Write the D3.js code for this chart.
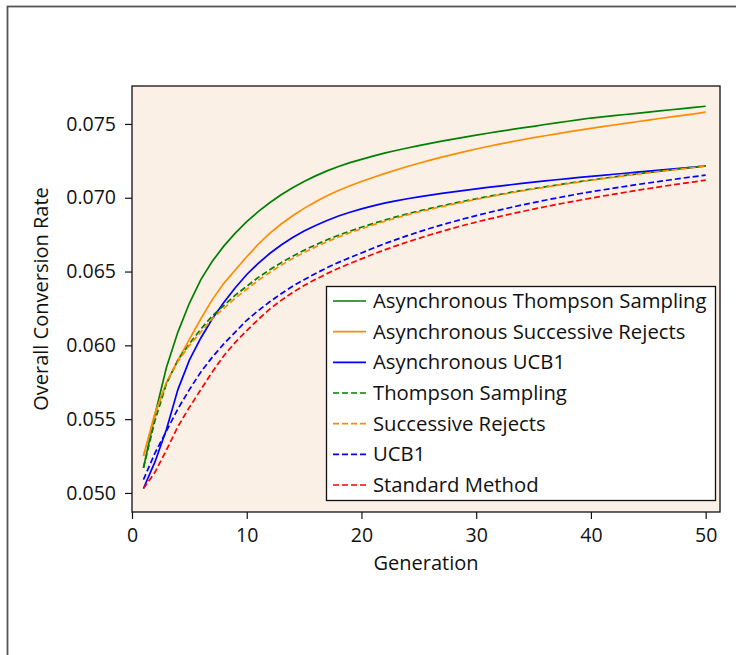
<!doctype html>
<html>
<head>
<meta charset="utf-8">
<style>
    body { margin: 0; background: #fff; }
    svg text { font-family: "Open Sans", sans-serif; fill: #111; }
</style>
<script src="https://cdn.jsdelivr.net/npm/d3@7"></script>
</head>
<body>
<svg width="736" height="655"></svg>
<script>
    // generations 1..50
    var generations = d3.range(1, 51);

    var seriesNames = ["Asynchronous Thompson Sampling", "Asynchronous Successive Rejects",
        "Asynchronous UCB1", "Thompson Sampling", "Successive Rejects", "UCB1", "Standard Method"];

    var asyncThompson = [0.05170, 0.05530, 0.05850, 0.06090, 0.06285, 0.06445, 0.06570, 0.06672, 0.06760, 0.06838,
        0.06906, 0.06966, 0.07020, 0.07068, 0.07110, 0.07148, 0.07182, 0.07212, 0.07238, 0.07260,
        0.07282, 0.07302, 0.07320, 0.07337, 0.07353, 0.07368, 0.07383, 0.07397, 0.07411, 0.07424,
        0.07437, 0.07449, 0.07461, 0.07473, 0.07484, 0.07496, 0.07507, 0.07518, 0.07529, 0.07540,
        0.07548, 0.07556, 0.07564, 0.07572, 0.07580, 0.07588, 0.07596, 0.07604, 0.07612, 0.07620];

    var asyncRejects = [0.05250, 0.05540, 0.05746, 0.05900, 0.06040, 0.06180, 0.06310, 0.06420, 0.06510, 0.06600,
        0.06685, 0.06758, 0.06822, 0.06878, 0.06928, 0.06973, 0.07014, 0.07049, 0.07081, 0.07110,
        0.07137, 0.07163, 0.07188, 0.07212, 0.07234, 0.07255, 0.07275, 0.07294, 0.07312, 0.07330,
        0.07347, 0.07363, 0.07378, 0.07393, 0.07407, 0.07420, 0.07433, 0.07446, 0.07458, 0.07470,
        0.07482, 0.07493, 0.07504, 0.07515, 0.07526, 0.07537, 0.07548, 0.07558, 0.07568, 0.07580];

    var asyncUCB1 = [0.05030, 0.05210, 0.05430, 0.05700, 0.05900, 0.06050, 0.06180, 0.06290, 0.06390, 0.06480,
        0.06555, 0.06622, 0.06680, 0.06730, 0.06774, 0.06812, 0.06846, 0.06876, 0.06902, 0.06925,
        0.06945, 0.06963, 0.06979, 0.06993, 0.07006, 0.07018, 0.07029, 0.07040, 0.07050, 0.07060,
        0.07070, 0.07079, 0.07088, 0.07097, 0.07106, 0.07114, 0.07122, 0.07130, 0.07138, 0.07145,
        0.07152, 0.07159, 0.07166, 0.07173, 0.07180, 0.07187, 0.07194, 0.07201, 0.07208, 0.07215];

    var thompson = [0.05170, 0.05490, 0.05740, 0.05900, 0.06010, 0.06110, 0.06200, 0.06270, 0.06340, 0.06400,
        0.06460, 0.06512, 0.06560, 0.06604, 0.06644, 0.06681, 0.06715, 0.06746, 0.06774, 0.06800,
        0.06825, 0.06848, 0.06870, 0.06891, 0.06910, 0.06928, 0.06945, 0.06962, 0.06978, 0.06993,
        0.07008, 0.07022, 0.07036, 0.07049, 0.07062, 0.07074, 0.07086, 0.07098, 0.07109, 0.07120,
        0.07131, 0.07141, 0.07151, 0.07161, 0.07171, 0.07180, 0.07189, 0.07198, 0.07207, 0.07216];

    var rejects = [0.05250, 0.05530, 0.05750, 0.05890, 0.06000, 0.06090, 0.06180, 0.06250, 0.06320, 0.06380,
        0.06440, 0.06494, 0.06543, 0.06588, 0.06629, 0.06667, 0.06702, 0.06734, 0.06763, 0.06790,
        0.06816, 0.06840, 0.06862, 0.06884, 0.06904, 0.06922, 0.06940, 0.06957, 0.06973, 0.06989,
        0.07004, 0.07019, 0.07033, 0.07046, 0.07059, 0.07072, 0.07084, 0.07096, 0.07107, 0.07118,
        0.07129, 0.07139, 0.07149, 0.07159, 0.07169, 0.07178, 0.07187, 0.07196, 0.07205, 0.07214];

    var ucb1 = [0.05090, 0.05270, 0.05420, 0.05570, 0.05700, 0.05820, 0.05920, 0.06010, 0.06090, 0.06170,
        0.06235, 0.06295, 0.06350, 0.06400, 0.06445, 0.06487, 0.06526, 0.06562, 0.06595, 0.06626,
        0.06658, 0.06688, 0.06716, 0.06743, 0.06769, 0.06793, 0.06816, 0.06838, 0.06859, 0.06879,
        0.06898, 0.06916, 0.06934, 0.06951, 0.06967, 0.06983, 0.06998, 0.07013, 0.07027, 0.07040,
        0.07053, 0.07065, 0.07077, 0.07089, 0.07100, 0.07111, 0.07122, 0.07133, 0.07143, 0.07153];

    var standard = [0.05030, 0.05140, 0.05290, 0.05450, 0.05580, 0.05700, 0.05820, 0.05930, 0.06020, 0.06100,
        0.06175, 0.06245, 0.06305, 0.06358, 0.06405, 0.06447, 0.06486, 0.06522, 0.06555, 0.06586,
        0.06617, 0.06646, 0.06674, 0.06700, 0.06725, 0.06749, 0.06772, 0.06794, 0.06815, 0.06835,
        0.06854, 0.06872, 0.06890, 0.06907, 0.06923, 0.06939, 0.06954, 0.06969, 0.06983, 0.06997,
        0.07011, 0.07024, 0.07037, 0.07050, 0.07062, 0.07074, 0.07086, 0.07097, 0.07108, 0.07119];

    var seriesColors = ["#008000", "#ff8c00", "#0000ff", "#008000", "#ff8c00", "#0000ff", "#ff0000"];
    var seriesDashed = [false, false, false, true, true, true, true];

    var xTicks = [0, 10, 20, 30, 40, 50];
    var yTicks = [0.050, 0.055, 0.060, 0.065, 0.070, 0.075];

    var allSeries = [asyncThompson, asyncRejects, asyncUCB1, thompson, rejects, ucb1, standard];

    var svg = d3.select("svg");

    // outer figure frame (cut at right/bottom edges)
    svg.append("rect")
       .attr("x", 7.5)
       .attr("y", 6.5)
       .attr("width", 760)
       .attr("height", 680)
       .attr("fill", "#fff")
       .attr("stroke", "#555")
       .attr("stroke-width", 1.8);

    var plotLeft = 132, plotTop = 86, plotRight = 720, plotBottom = 512;

    var x = d3.scaleLinear().domain([0, 51.25]).range([plotLeft, plotRight]);
    var y = d3.scaleLinear().domain([0.04871, 0.07757]).range([plotBottom, plotTop]);

    svg.append("rect")
       .attr("x", plotLeft)
       .attr("y", plotTop)
       .attr("width", plotRight - plotLeft)
       .attr("height", plotBottom - plotTop)
       .attr("fill", "#faf0e6");

    var line = d3.line()
        .x(function(d, i) { return x(generations[i]); })
        .y(function(d) { return y(d); });

    var plot = svg.append("g");
    allSeries.forEach(function(s, k) {
        plot.append("path")
            .datum(s)
            .attr("d", line)
            .attr("fill", "none")
            .attr("stroke", seriesColors[k])
            .attr("stroke-width", 1.7)
            .attr("stroke-dasharray", seriesDashed[k] ? "6,3" : null);
    });

    // axes
    var xAxis = svg.append("g")
        .attr("transform", "translate(0," + plotBottom + ")")
        .call(d3.axisBottom(x).tickValues(xTicks).tickSize(7).tickPadding(9).tickFormat(d3.format("d")));
    var yAxis = svg.append("g")
        .attr("transform", "translate(" + plotLeft + ",0)")
        .call(d3.axisLeft(y).tickValues(yTicks).tickSize(7).tickPadding(9).tickFormat(d3.format(".3f")));

    [xAxis, yAxis].forEach(function(a) {
        a.select(".domain").remove();
        a.selectAll("line").attr("stroke", "#111").attr("stroke-width", 1.2);
        a.selectAll("text").attr("font-size", "19.5px").attr("fill", "#111")
            .style("font-family", "'Open Sans', sans-serif");
    });

    // plot frame
    svg.append("rect")
       .attr("x", plotLeft)
       .attr("y", plotTop)
       .attr("width", plotRight - plotLeft)
       .attr("height", plotBottom - plotTop)
       .attr("fill", "none")
       .attr("stroke", "#111")
       .attr("stroke-width", 1.3);

    svg.append("text")
       .attr("x", (plotLeft + plotRight) / 2)
       .attr("y", 570)
       .attr("text-anchor", "middle")
       .attr("font-size", "20px")
       .text("Generation");

    svg.append("text")
       .attr("transform", "translate(48," + ((plotTop + plotBottom) / 2) + ")rotate(-90)")
       .attr("text-anchor", "middle")
       .attr("font-size", "20px")
       .text("Overall Conversion Rate");

    // legend
    var legend = svg.append("g");
    legend.append("rect")
        .attr("x", 326.5)
        .attr("y", 286.5)
        .attr("width", 389)
        .attr("height", 214)
        .attr("fill", "#fff")
        .attr("stroke", "#111")
        .attr("stroke-width", 1.3);

    seriesNames.forEach(function(name, k) {
        var ly = 301 + k * 30.67;
        legend.append("line")
            .attr("x1", 333)
            .attr("x2", 366)
            .attr("y1", ly)
            .attr("y2", ly)
            .attr("stroke", seriesColors[k])
            .attr("stroke-width", 1.7)
            .attr("stroke-dasharray", seriesDashed[k] ? "6,3" : null);
        legend.append("text")
            .attr("x", 373)
            .attr("y", ly)
            .attr("dy", "0.35em")
            .attr("font-size", "20.3px")
            .text(name);
    });
</script>
</body>
</html>
